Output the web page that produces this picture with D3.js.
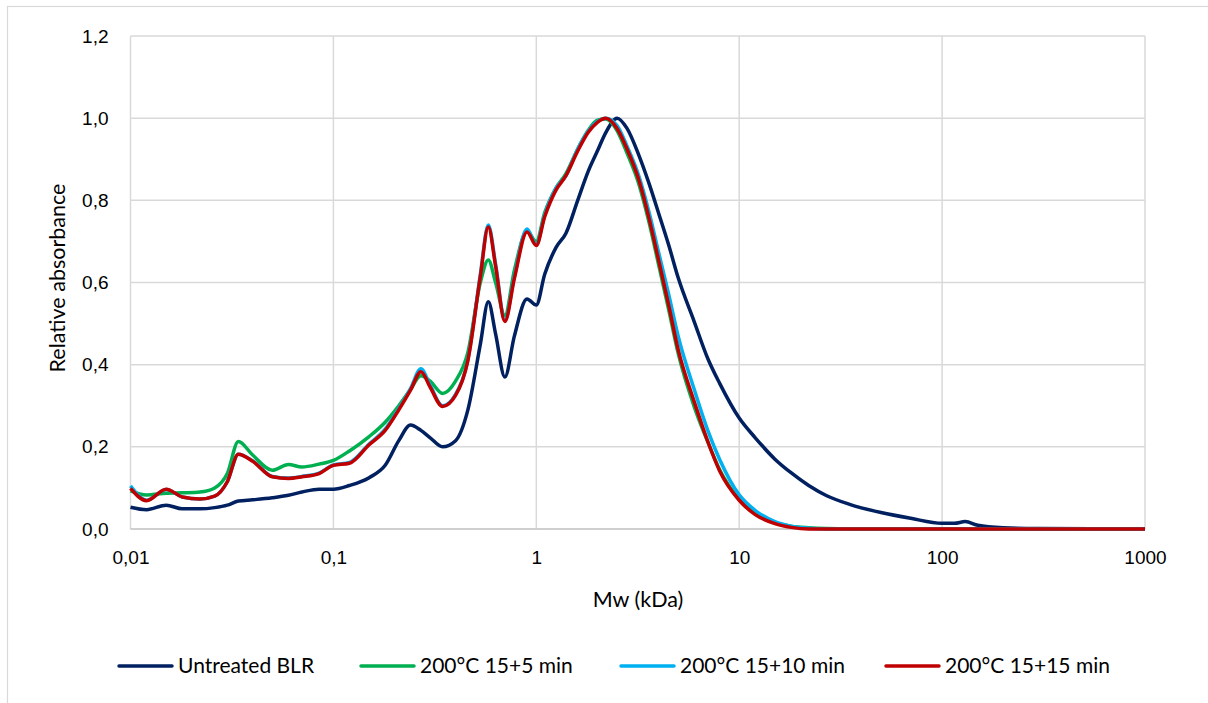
<!DOCTYPE html>
<html>
<head>
<meta charset="utf-8">
<script src="https://cdn.jsdelivr.net/npm/d3@7/dist/d3.min.js"></script>
<style>
  body { margin: 0; background: #fff; }
  svg { display: block; font-family: Lato, "Liberation Sans", sans-serif; }
  .grid line { stroke: #d9d9d9; stroke-width: 1.5; }
  .tick text { fill: #000; }
</style>
</head>
<body>
<div id="chart"></div>
<script>
// molecular weight (kDa), shared by all series
var mw = [0.01, 0.012, 0.015, 0.018, 0.022, 0.026, 0.03, 0.034, 0.04, 0.05, 0.06, 0.07, 0.085,
  0.1, 0.12, 0.15, 0.18, 0.21, 0.24, 0.27, 0.3, 0.345, 0.4, 0.46, 0.53, 0.58, 0.63, 0.7, 0.78, 0.9,
  1.0, 1.1, 1.25, 1.4, 1.6, 1.8, 2.0, 2.2, 2.5, 2.8, 3.2, 3.6, 4, 4.5, 5, 6, 7, 8,
  10, 12, 15, 18, 22, 27, 35, 50, 70, 100, 115, 130, 150, 200, 300, 1000];

var untreated = [0.053, 0.047, 0.058, 0.049, 0.049, 0.052, 0.058, 0.068, 0.071, 0.076, 0.082, 0.090, 0.097,
  0.097, 0.106, 0.125, 0.155, 0.215, 0.253, 0.240, 0.222, 0.200, 0.215, 0.290, 0.450, 0.553, 0.475, 0.370, 0.470, 0.560,
  0.545, 0.620, 0.685, 0.720, 0.800, 0.870, 0.920, 0.965, 1.000, 0.975, 0.910, 0.840, 0.770, 0.690, 0.612, 0.505, 0.415, 0.355,
  0.270, 0.222, 0.170, 0.137, 0.106, 0.081, 0.060, 0.040, 0.026, 0.014, 0.014, 0.018, 0.009, 0.003, 0.001, 0];

var t5 = [0.093, 0.083, 0.087, 0.088, 0.090, 0.100, 0.135, 0.213, 0.180, 0.143, 0.157, 0.151, 0.158,
  0.167, 0.190, 0.225, 0.260, 0.300, 0.340, 0.373, 0.360, 0.330, 0.360, 0.430, 0.600, 0.655, 0.600, 0.520, 0.630, 0.725,
  0.700, 0.770, 0.830, 0.865, 0.925, 0.970, 0.995, 0.998, 0.970, 0.915, 0.840, 0.745, 0.645, 0.532, 0.428, 0.298, 0.212, 0.145,
  0.073, 0.039, 0.016, 0.007, 0.003, 0.001, 0, 0, 0, 0, 0, 0, 0, 0, 0, 0];

var t10 = [0.105, 0.070, 0.096, 0.078, 0.073, 0.080, 0.115, 0.182, 0.166, 0.128, 0.124, 0.128, 0.136,
  0.156, 0.162, 0.207, 0.243, 0.293, 0.342, 0.390, 0.350, 0.300, 0.328, 0.412, 0.620, 0.740, 0.645, 0.508, 0.615, 0.730,
  0.692, 0.765, 0.830, 0.860, 0.925, 0.968, 0.992, 1.000, 0.982, 0.932, 0.860, 0.770, 0.675, 0.570, 0.470, 0.340, 0.240, 0.170,
  0.083, 0.045, 0.018, 0.007, 0.002, 0, 0, 0, 0, 0, 0, 0, 0, 0, 0, 0];

var t15 = [0.099, 0.069, 0.097, 0.078, 0.073, 0.080, 0.115, 0.182, 0.165, 0.127, 0.123, 0.127, 0.135,
  0.155, 0.160, 0.205, 0.240, 0.290, 0.338, 0.383, 0.345, 0.298, 0.325, 0.410, 0.615, 0.735, 0.640, 0.505, 0.610, 0.723,
  0.690, 0.760, 0.825, 0.860, 0.920, 0.965, 0.990, 1.000, 0.975, 0.925, 0.850, 0.755, 0.656, 0.543, 0.437, 0.310, 0.213, 0.142,
  0.070, 0.035, 0.013, 0.004, 0, 0, 0, 0, 0, 0, 0, 0, 0, 0, 0, 0];

var seriesNames = ['Untreated BLR', '200°C 15+5 min', '200°C 15+10 min', '200°C 15+15 min'];
var seriesValues = [untreated, t5, t10, t15];
var seriesColors = ['#002060', '#00b050', '#00b0f0', '#c00000'];

var xTicks = [0.01, 0.1, 1, 10, 100, 1000];
var yTicks = [0, 0.2, 0.4, 0.6, 0.8, 1.0, 1.2];

var W = 1208, H = 703;
var svg = d3.select('#chart').append('svg').attr('width', W).attr('height', H);

// chart frame
svg.append('rect')
  .attr('x', 7.5).attr('y', 6.5).attr('width', W + 10).attr('height', H + 10)
  .attr('fill', 'none').attr('stroke', '#d9d9d9').attr('stroke-width', 1.2);

var x = d3.scaleLog().domain([0.01, 1000]).range([130.5, 1145]);
var y = d3.scaleLinear().domain([0, 1.2]).range([529, 36]);

var fmt = function(d) { return String(d).replace('.', ','); };

// gridlines
svg.append('g').attr('class', 'grid')
  .selectAll('line').data(yTicks).enter().append('line')
  .attr('x1', x.range()[0]).attr('x2', x.range()[1])
  .attr('y1', function(d) { return y(d); }).attr('y2', function(d) { return y(d); });
svg.append('g').attr('class', 'grid')
  .selectAll('line').data(xTicks).enter().append('line')
  .attr('y1', y.range()[0]).attr('y2', y.range()[1])
  .attr('x1', function(d) { return x(d); }).attr('x2', function(d) { return x(d); });

// bottom axis line
svg.append('line')
  .attr('x1', x.range()[0]).attr('x2', x.range()[1])
  .attr('y1', y(0)).attr('y2', y(0))
  .attr('stroke', '#c8c8c8').attr('stroke-width', 1.5);

// axes labels
var xAxis = d3.axisBottom(x).tickValues(xTicks).tickSize(0).tickPadding(22)
  .tickFormat(function(d) { return fmt(d); });
svg.append('g').attr('transform', 'translate(0,' + y(0) + ')').call(xAxis)
  .call(function(g) { g.select('.domain').remove(); })
  .selectAll('text').style('font-size', '19px');

var yAxis = d3.axisLeft(y).tickValues(yTicks).tickSize(0).tickPadding(22)
  .tickFormat(function(d) { return fmt(d.toFixed(1)); });
svg.append('g').attr('transform', 'translate(' + x.range()[0] + ',0)').call(yAxis)
  .call(function(g) { g.select('.domain').remove(); })
  .selectAll('text').style('font-size', '19px');

// axis titles
svg.append('text')
  .attr('x', 638).attr('y', 607)
  .attr('text-anchor', 'middle').style('font-size', '21.5px')
  .text('Mw (kDa)');
svg.append('text')
  .attr('transform', 'translate(65,278) rotate(-90)')
  .attr('text-anchor', 'middle').style('font-size', '21.5px')
  .text('Relative absorbance');

// lines
var line = d3.line()
  .x(function(d) { return x(d[0]); })
  .y(function(d) { return y(d[1]); })
  .curve(d3.curveMonotoneX);

svg.append('g').attr('id', 'lines')
  .selectAll('path').data(seriesValues).enter().append('path')
  .attr('d', function(vals) { return line(mw.map(function(m, i) { return [m, vals[i]]; })); })
  .attr('fill', 'none')
  .attr('stroke', function(d, i) { return seriesColors[i]; })
  .attr('stroke-width', 3.5)
  .attr('stroke-linejoin', 'round');

// legend
var legendX = [119, 361, 621, 886];
var legend = svg.append('g').attr('id', 'legend')
  .selectAll('g').data(seriesNames).enter().append('g')
  .attr('transform', function(d, i) { return 'translate(' + legendX[i] + ',666)'; });
legend.append('line')
  .attr('x1', 0).attr('x2', 53).attr('y1', 0).attr('y2', 0)
  .attr('stroke', function(d, i) { return seriesColors[i]; })
  .attr('stroke-width', 3.5).attr('stroke-linecap', 'round');
legend.append('text')
  .attr('x', 59).attr('y', 0).attr('dy', '0.35em')
  .style('font-size', '21px')
  .text(function(d) { return d; });
</script>
</body>
</html>
